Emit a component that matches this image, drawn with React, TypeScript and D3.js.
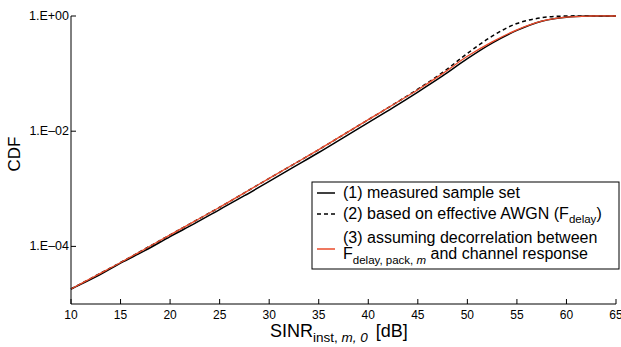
import * as d3 from 'd3';

// SINR grid [dB]
const sinrDb = [10, 12.5, 15, 17.5, 20, 22.5, 25, 27.5, 30, 32.5, 35, 37.5, 40, 42.5, 45, 47.5, 50, 52.5, 55, 57.5, 60, 62.5, 65];
// log10(CDF) per curve
const measuredLog = [-4.74, -4.53, -4.29, -4.07, -3.83, -3.60, -3.36, -3.12, -2.87, -2.62, -2.37, -2.11, -1.85, -1.59, -1.32, -1.04, -0.74, -0.47, -0.25, -0.09, -0.02, 0, 0];
const awgnLog = [-4.74, -4.51, -4.28, -4.04, -3.80, -3.56, -3.32, -3.07, -2.82, -2.57, -2.32, -2.06, -1.80, -1.54, -1.27, -0.98, -0.65, -0.35, -0.13, -0.03, 0, 0, 0];
const decorrLog = [-4.74, -4.51, -4.28, -4.04, -3.80, -3.56, -3.32, -3.07, -2.82, -2.57, -2.32, -2.06, -1.80, -1.54, -1.28, -1.00, -0.70, -0.45, -0.24, -0.09, -0.02, 0, 0];

const xTicks = [10, 15, 20, 25, 30, 35, 40, 45, 50, 55, 60, 65];
const yTicks = [1, 1e-2, 1e-4];
const yTickLabels = ['1.E+00', '1.E\u201302', '1.E\u201304'];

const W = 621;
const H = 347;
const M = { left: 71, right: 5, top: 16, bottom: 43 };
const FONT = '"Liberation Sans", Arial, Helvetica, sans-serif';
const RED = '#ea4b2b';

export default function App() {
  const x = d3.scaleLinear().domain([10, 65]).range([M.left, W - M.right]);
  const y = d3.scaleLog().domain([1e-5, 1]).range([H - M.bottom, M.top]);

  const line = d3
    .line<number>()
    .x((_, i) => x(sinrDb[i]))
    .y((d) => y(Math.pow(10, d)))
    .curve(d3.curveCatmullRom.alpha(0.5));

  const x0 = x(10);
  const y0 = y(1e-5);

  const lx = 312;
  const ly = 182;

  return (
    <svg width={W} height={H} style={{ position: 'absolute', left: 0, top: 0, background: '#fff' }} fontFamily={FONT}>
      {/* curves */}
      <path d={line(measuredLog) || ''} fill="none" stroke="#000" strokeWidth={1.5} />
      <path d={line(awgnLog) || ''} fill="none" stroke="#000" strokeWidth={1.5} strokeDasharray="4 3" />
      <path d={line(decorrLog) || ''} fill="none" stroke={RED} strokeWidth={1.3} />

      {/* axes */}
      <line x1={x0} x2={x0} y1={M.top} y2={y0} stroke="#000" strokeWidth={1} />
      <line x1={x0} x2={W - M.right} y1={y0} y2={y0} stroke="#000" strokeWidth={1} />
      {xTicks.map((t) => (
        <g key={t}>
          <line x1={x(t)} x2={x(t)} y1={y0} y2={y0 - 5} stroke="#000" />
          <text x={x(t)} y={y0 + 15} fontSize={12} textAnchor="middle">{t}</text>
        </g>
      ))}
      {yTicks.map((t, i) => (
        <g key={t}>
          <line x1={x0} x2={x0 + 5} y1={y(t)} y2={y(t)} stroke="#000" />
          <text x={x0 - 2} y={y(t) + 4} fontSize={12.5} textAnchor="end">{yTickLabels[i]}</text>
        </g>
      ))}

      {/* axis labels */}
      <text transform="translate(20,154) rotate(-90)" fontSize={17} textAnchor="middle">CDF</text>
      <text x={270} y={337} fontSize={18}>
        SINR
        <tspan dy={5} fontSize={13.5}>inst, </tspan>
        <tspan fontSize={13.5} fontStyle="italic">m, 0</tspan>
        <tspan dy={-5} dx={8} fontSize={18}>[dB]</tspan>
      </text>

      {/* legend */}
      <rect x={lx} y={ly} width={W - 2 - lx} height={87} fill="#fff" stroke="#000" strokeWidth={1} />
      <line x1={lx + 5} x2={lx + 23} y1={ly + 11} y2={ly + 11} stroke="#000" strokeWidth={1.5} />
      <text x={lx + 31} y={ly + 16} fontSize={16}>(1) measured sample set</text>
      <line x1={lx + 5} x2={lx + 23} y1={ly + 32} y2={ly + 32} stroke="#000" strokeWidth={1.5} strokeDasharray="4 3" />
      <text x={lx + 31} y={ly + 37} fontSize={16}>
        (2) based on effective AWGN (F<tspan dy={4} fontSize={11.5}>delay</tspan>
        <tspan dy={-4}>)</tspan>
      </text>
      <line x1={lx + 5} x2={lx + 23} y1={ly + 67} y2={ly + 67} stroke={RED} strokeWidth={1.5} />
      <text x={lx + 31} y={ly + 61} fontSize={16}>(3) assuming decorrelation between</text>
      <text x={lx + 31} y={ly + 77} fontSize={16}>
        F<tspan dy={5} fontSize={11.5}>delay, pack, </tspan>
        <tspan fontSize={11.5} fontStyle="italic">m</tspan>
        <tspan dy={-5}> and channel response</tspan>
      </text>
    </svg>
  );
}
